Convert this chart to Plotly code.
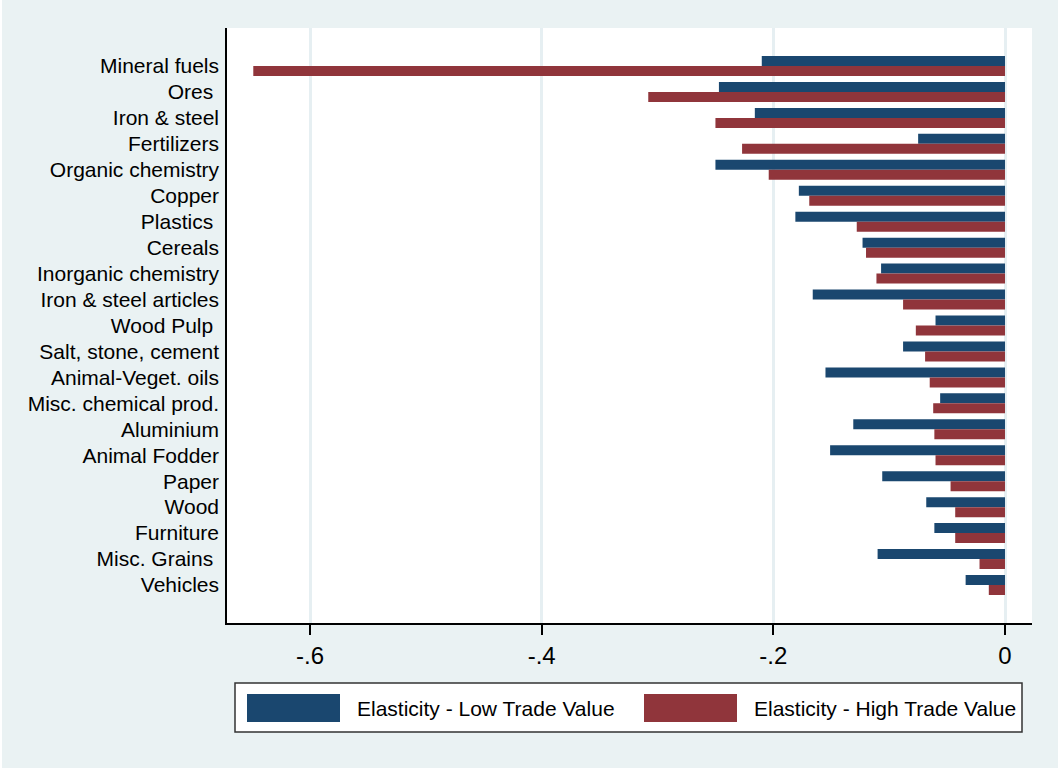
import plotly.graph_objects as go

# Product groups, top to bottom
products = [
    "Mineral fuels", "Ores\u00a0", "Iron & steel", "Fertilizers", "Organic chemistry",
    "Copper", "Plastics\u00a0", "Cereals", "Inorganic chemistry", "Iron & steel articles",
    "Wood Pulp\u00a0", "Salt, stone, cement", "Animal-Veget. oils", "Misc. chemical prod.",
    "Aluminium", "Animal Fodder", "Paper", "Wood", "Furniture", "Misc. Grains\u00a0", "Vehicles",
]

# Elasticity estimates for low and high trade value
elast_low = [
    -0.210, -0.247, -0.216, -0.075, -0.250,
    -0.178, -0.181, -0.123, -0.107, -0.166,
    -0.060, -0.088, -0.155, -0.056,
    -0.131, -0.151, -0.106, -0.068, -0.061, -0.110, -0.034,
]
elast_high = [
    -0.649, -0.308, -0.250, -0.227, -0.204,
    -0.169, -0.128, -0.120, -0.111, -0.088,
    -0.077, -0.069, -0.065, -0.062,
    -0.061, -0.060, -0.047, -0.043, -0.043, -0.022, -0.014,
]

series_names = ["Elasticity - Low Trade Value", "Elasticity - High Trade Value"]
series_colors = ["#1a476f", "#90353b"]

x_ticks = [-0.6, -0.4, -0.2, 0]
x_tick_labels = ["-.6", "-.4", "-.2", "0"]

FONT = "Liberation Sans, Arial, sans-serif"
BG = "#eaf2f3"

W, H = 1058, 768
ML, MR, MT, MB = 227, 26, 28, 145
PW, PH = W - ML - MR, H - MT - MB


def px(x):
    return (x - ML) / PW


def py(y):
    return (H - MB - y) / PH


fig = go.Figure()
for vals, name, color in zip([elast_low, elast_high], series_names, series_colors):
    fig.add_trace(go.Bar(
        x=vals, y=products, orientation="h", name=name,
        marker=dict(color=color, line=dict(width=0)),
        showlegend=False,
    ))

n = len(products)
pad = 1.465

shapes = [
    # thin white strip on the far left of the graph region
    dict(type="rect", xref="paper", yref="paper", x0=px(0), x1=px(2), y0=py(H), y1=py(0),
         fillcolor="white", line=dict(width=0), layer="below"),
    # legend frame
    dict(type="rect", xref="paper", yref="paper", x0=px(235), x1=px(1022), y0=py(732), y1=py(683),
         fillcolor="white", line=dict(color="#333333", width=1.5)),
]
annotations = []
key_x = [(247, 340, 355), (644, 737, 752)]
for (sx0, sx1, tx), name, color in zip(key_x, series_names, series_colors):
    shapes.append(dict(type="rect", xref="paper", yref="paper", x0=px(sx0), x1=px(sx1),
                       y0=py(722), y1=py(694), fillcolor=color, line=dict(width=0)))
    annotations.append(dict(xref="paper", yref="paper", x=px(tx), y=py(708.5), text=name,
                            showarrow=False, xanchor="left", yanchor="middle",
                            font=dict(family=FONT, size=21, color="black")))

fig.update_layout(
    width=W, height=H,
    margin=dict(l=ML, r=MR, t=MT, b=MB, autoexpand=False),
    paper_bgcolor=BG, plot_bgcolor="white",
    barmode="group", bargap=0.23, bargroupgap=0,
    font=dict(family=FONT, color="black"),
    shapes=shapes, annotations=annotations,
    xaxis=dict(
        range=[-0.6717, 0.0233], tickvals=x_ticks, ticktext=x_tick_labels,
        ticks="outside", ticklen=10, tickwidth=1.5, tickcolor="black",
        showline=True, linecolor="black", linewidth=1.5,
        showgrid=True, gridcolor="#e6eff2", gridwidth=2.5, zeroline=False,
        tickfont=dict(family=FONT, size=24, color="black"),
    ),
    yaxis=dict(
        type="category", range=[n - 1 + pad, -pad], autorange=False,
        showline=True, linecolor="black", linewidth=1.5,
        showgrid=False, ticks="", zeroline=False,
        tickfont=dict(family=FONT, size=21, color="black"),
        ticklabelstandoff=2,
    ),
)

fig.write_html("out.html")
